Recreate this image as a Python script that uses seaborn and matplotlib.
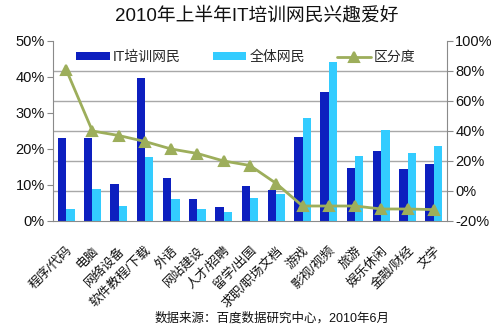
import numpy as np
import pandas as pd
import matplotlib
matplotlib.use("Agg")
import matplotlib.pyplot as plt
import seaborn as sns

categories = ['程序/代码', '电脑', '网络设备', '软件教程/下载', '外语', '网站建设', '人才/招聘',
              '留学/出国', '求职/职场文档', '游戏', '影视/视频', '旅游', '娱乐休闲', '金融/财经', '文学']
it_users = [23.1, 23.1, 10.3, 39.7, 11.9, 6.1, 3.9, 9.7, 8.6, 23.3, 35.8, 14.7, 19.4, 14.4, 15.8]
all_users = [3.4, 8.9, 4.2, 17.8, 6.1, 3.4, 2.5, 6.4, 7.5, 28.7, 44.2, 18.1, 25.3, 18.9, 20.8]
discrimination = [81, 40, 37, 33, 28, 25, 20, 17, 5, -10, -10, -10, -12, -12, -12.4]
series_names = ['IT培训网民', '全体网民']
line_name = '区分度'
left_ticks = [0, 10, 20, 30, 40, 50]
right_ticks = [-20, 0, 20, 40, 60, 80, 100]

sns.set_style('white')
plt.rcParams['font.family'] = ['Liberation Sans', 'Noto Sans CJK SC', 'DejaVu Sans']

df = pd.DataFrame({
    'cat': categories * 2,
    'val': it_users + all_users,
    'series': [series_names[0]] * len(categories) + [series_names[1]] * len(categories),
})

fig = plt.figure(figsize=(4.99, 3.28), dpi=100)
ax = fig.add_axes([53 / 499, 1 - 221 / 328, 394 / 499, 180 / 328])

sns.barplot(data=df, x='cat', y='val', hue='series', hue_order=series_names,
            palette=['#0D1FBF', '#33CCFF'], width=0.64, saturation=1, ax=ax,
            edgecolor='none', linewidth=0)
h1, l1 = ax.get_legend_handles_labels()
if ax.get_legend() is not None:
    ax.get_legend().remove()

grid_col = '#A8A8A8'
spine_col = '#8A8A8A'
ax.set_ylim(0, 50)
ax.set_yticks(left_ticks)
ax.set_yticklabels([f'{v}%' for v in left_ticks], fontsize=10.5, color='#111111')
# gridlines aligned with right-axis ticks
ax.set_yticks([(r + 20) / 120 * 50 for r in right_ticks[1:]], minor=True)
ax.yaxis.grid(True, which='minor', color=grid_col, linewidth=1)
ax.yaxis.grid(False, which='major')
ax.set_axisbelow(True)
ax.set_xlim(-0.5, len(categories) - 0.5)
ax.set_xticks(np.arange(-0.5, len(categories), 1), minor=True)
ax.set_xticklabels(categories, rotation=45, ha='right', rotation_mode='anchor',
                   fontsize=9.2, color='#111111')
ax.tick_params(axis='x', which='major', length=0, pad=17)
ax.tick_params(axis='x', which='minor', length=4, color=spine_col, direction='out')
ax.tick_params(axis='y', which='minor', length=0)
ax.tick_params(axis='y', which='major', length=4, color=spine_col, direction='out', pad=2)
ax.set_xlabel('')
ax.set_ylabel('')
for s in ['left', 'bottom']:
    ax.spines[s].set_color(spine_col)
ax.spines['top'].set_visible(False)
ax.spines['right'].set_visible(False)

ax2 = ax.twinx()
sns.pointplot(x=categories, y=discrimination, ax=ax2, color='#9DAE5B', errorbar=None,
              marker='^', markersize=7, linewidth=2)
ax2.set_ylim(-20, 100)
ax2.set_yticks(right_ticks)
ax2.set_yticklabels([f'{v}%' for v in right_ticks], fontsize=10.5, color='#111111')
ax2.tick_params(axis='y', length=4, color=spine_col, direction='out', pad=2)
ax2.set_xlim(-0.5, len(categories) - 0.5)
ax2.set_ylabel('')
for s in ['top', 'left', 'bottom']:
    ax2.spines[s].set_visible(False)
ax2.spines['right'].set_color(spine_col)

line = ax2.lines[0]
ax2.legend(h1 + [line], l1 + [line_name], loc='center', bbox_to_anchor=(0.49, 0.91),
           ncol=3, frameon=False, fontsize=10, handlelength=2.4, handleheight=0.55,
           columnspacing=2.3, handletextpad=0.25)

fig.text(257 / 499, 1 - 16 / 328, '2010年上半年IT培训网民兴趣爱好', ha='center', va='center',
         fontsize=13.5, color='#111111')
fig.text(272 / 499, 1 - 318 / 328, '数据来源：百度数据研究中心，2010年6月', ha='center', va='center',
         fontsize=9, color='#111111')

fig.savefig('out.png', dpi=100)
